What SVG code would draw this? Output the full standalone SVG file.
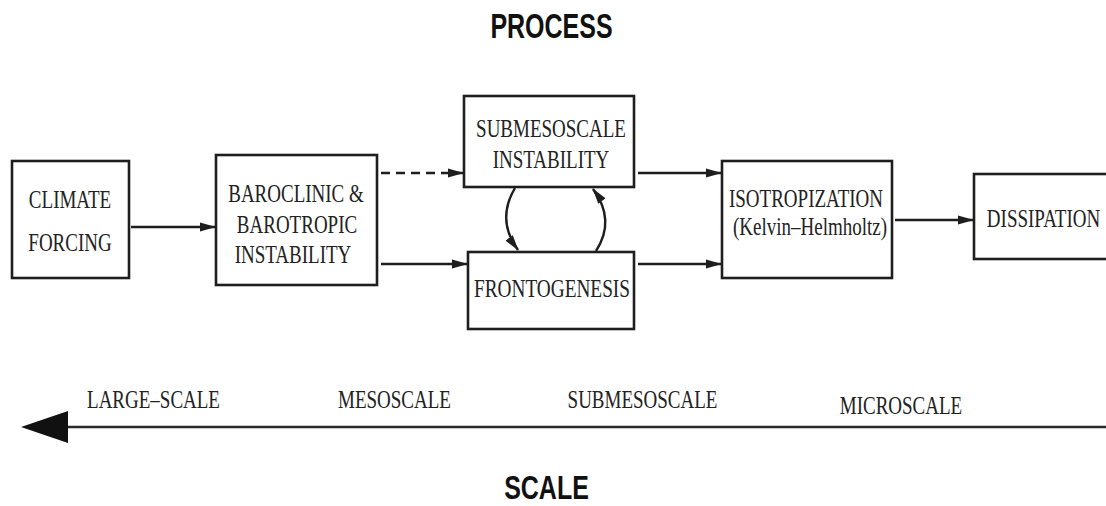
<svg xmlns="http://www.w3.org/2000/svg" width="1106" height="506" viewBox="0 0 1106 506">
<style>
.box{fill:#fff;stroke:#1e1e1e;stroke-width:2.6}
.t{font-family:"Liberation Serif","Times New Roman",serif;font-size:19px;fill:#222;text-anchor:middle}
.h{font-family:"Liberation Sans",Arial,sans-serif;font-size:25px;font-weight:bold;fill:#111;text-anchor:middle}
.c{fill:none;stroke:#1e1e1e;stroke-width:2.4}
</style>
<defs>
<marker id="ah" viewBox="0 0 16 10" refX="15" refY="5" markerWidth="16" markerHeight="10" markerUnits="userSpaceOnUse" orient="auto">
<path d="M0,0.5 L16,5 L0,9.5 z" fill="#1e1e1e"/>
</marker>
</defs>
<rect width="1106" height="506" fill="#fff"/>
<g id="title-process"><text class="h" transform="translate(551.5,38) scale(1,1.38)">PROCESS</text></g>
<g id="title-scale"><text class="h" transform="translate(546.5,499) scale(1,1.32)">SCALE</text></g>
<g id="climate">
<rect class="box" x="12" y="161" width="117" height="117"/>
<text class="t" transform="translate(70,208) scale(1,1.35)">CLIMATE</text>
<text class="t" transform="translate(70,251) scale(1,1.35)">FORCING</text>
</g>
<g id="baroclinic">
<rect class="box" x="216" y="155" width="161" height="130"/>
<text class="t" transform="translate(296,202) scale(1,1.35)">BAROCLINIC &amp;</text>
<text class="t" transform="translate(297,233) scale(1,1.35)">BAROTROPIC</text>
<text class="t" transform="translate(293,263) scale(1,1.35)">INSTABILITY</text>
</g>
<g id="submesoscale">
<rect class="box" x="464" y="96" width="170" height="91"/>
<text class="t" transform="translate(551,137) scale(1,1.35)">SUBMESOSCALE</text>
<text class="t" transform="translate(551,168) scale(1,1.35)">INSTABILITY</text>
</g>
<g id="frontogenesis">
<rect class="box" x="468" y="252" width="166" height="77"/>
<text class="t" transform="translate(552,297) scale(1,1.35)" textLength="156" lengthAdjust="spacingAndGlyphs">FRONTOGENESIS</text>
</g>
<g id="isotropization">
<rect class="box" x="722" y="161" width="170" height="117"/>
<text class="t" transform="translate(806,207) scale(1,1.35)">ISOTROPIZATION</text>
<text class="t" transform="translate(810,235) scale(1,1.35)">(Kelvin–Helmholtz)</text>
</g>
<g id="dissipation">
<rect class="box" x="974" y="174" width="150" height="85"/>
<text class="t" transform="translate(1043.5,227) scale(1,1.35)">DISSIPATION</text>
</g>
<g id="scale-labels">
<text class="t" transform="translate(153.5,408) scale(1,1.35)">LARGE–SCALE</text>
<text class="t" transform="translate(394.5,408) scale(1,1.35)">MESOSCALE</text>
<text class="t" transform="translate(642.5,408) scale(1,1.35)">SUBMESOSCALE</text>
<text class="t" transform="translate(901,414) scale(1,1.35)">MICROSCALE</text>
</g>
<g id="connectors">
<line class="c" x1="131" y1="227" x2="215" y2="227" marker-end="url(#ah)"/>
<line class="c" x1="381" y1="173" x2="463" y2="173" stroke-dasharray="9,6" marker-end="url(#ah)"/>
<line class="c" x1="381" y1="264" x2="467" y2="264" marker-end="url(#ah)"/>
<line class="c" x1="638" y1="173" x2="721" y2="173" marker-end="url(#ah)"/>
<line class="c" x1="638" y1="264" x2="721" y2="264" marker-end="url(#ah)"/>
<line class="c" x1="895" y1="220" x2="973" y2="220" marker-end="url(#ah)"/>
<path class="c" d="M515,188 Q496,220 518,250" marker-end="url(#ah)"/>
<path class="c" d="M596,251 Q616,220 593,189" marker-end="url(#ah)"/>
<line x1="62" y1="427" x2="1106" y2="427" stroke="#2a2a2a" stroke-width="2.6"/>
<polygon points="21,427 68,411 68,443" fill="#111"/>
</g>
</svg>
